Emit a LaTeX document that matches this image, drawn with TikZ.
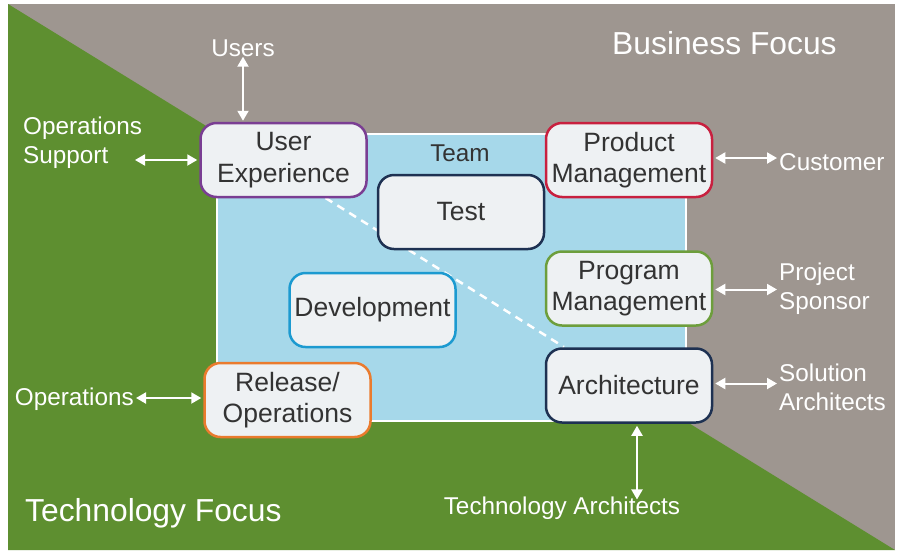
\documentclass[tikz,border=0pt]{standalone}
\usepackage{fontspec}
\setmainfont{Liberation Sans}
\usetikzlibrary{arrows.meta}

\definecolor{bizgray}{RGB}{158,150,144}
\definecolor{techgreen}{RGB}{94,143,48}
\definecolor{teamblue}{RGB}{166,216,234}
\definecolor{boxfill}{RGB}{238,241,243}
\definecolor{boxtext}{RGB}{51,51,51}
\definecolor{cpurple}{RGB}{122,62,147}
\definecolor{cred}{RGB}{200,32,63}
\definecolor{cnavy}{RGB}{30,49,82}
\definecolor{cgreen}{RGB}{109,158,60}
\definecolor{ccyan}{RGB}{28,154,208}
\definecolor{corange}{RGB}{234,123,46}

\tikzset{
  rolebox/.style={draw, line width=2.5pt, fill=boxfill, rounded corners=16pt,
    minimum width=166pt, minimum height=74pt, align=center, text=boxtext,
    font=\fontsize{26.5}{31.5}\selectfont, inner sep=1pt},
  extlabel/.style={text=white, font=\fontsize{24.3}{29}\selectfont, inner sep=2pt},
  focuslabel/.style={text=white, font=\fontsize{31.8}{36}\selectfont, inner sep=0pt, anchor=west},
  biarrow/.style={white, line width=2pt,
    {Triangle[length=10pt,width=11pt]}-{Triangle[length=10pt,width=11pt]}},
  divider/.style={white, line width=2.5pt, dash pattern=on 8pt off 6pt}
}

\begin{document}
\begin{tikzpicture}[x=1pt,y=-1pt]
  \useasboundingbox (0,0) rectangle (901,555);
  \fill[white] (0,0) rectangle (901,555);

  % two focus areas split along the diagonal
  \fill[bizgray] (8,4) rectangle (895,550);
  \fill[techgreen] (8,4) -- (895,550) -- (8,550) -- cycle;

  % team area
  \draw[white, line width=2.5pt, fill=teamblue] (217,134) rectangle (686,421);
  \node[text=boxtext, font=\fontsize{24.3}{29}\selectfont] (team) at (460,153) {Team};

  \node[focuslabel] (biz) at (612,43) {Business Focus};
  \node[focuslabel] (tech) at (25,513) {Technology Focus};

  % dashed divider across the team area, beneath the boxes
  \coordinate (divstart) at (325.5,198);
  \coordinate (divend) at (564,347);
  \draw[divider] (divstart) -- (divend);

  % role boxes
  \node[rolebox, draw=cpurple] (ux)   at (283.5,160) {User\\Experience};
  \node[rolebox, draw=cred]    (pm)   at (629,160)   {Product\\Management};
  \node[rolebox, draw=cnavy]   (test) at (461,212)   {Test};
  \node[rolebox, draw=cgreen]  (prog) at (629,288.5) {Program\\Management};
  \node[rolebox, draw=ccyan]   (dev)  at (372.5,310) {Development};
  \node[rolebox, draw=corange] (rel)  at (287.5,400) {Release/\\Operations};
  \node[rolebox, draw=cnavy]   (arch) at (629,385.5) {Architecture};

  % outside stakeholders
  \node[extlabel] (users) at (243,48) {Users};
  \node[extlabel, align=left, anchor=west] (opsup) at (21,143) {Operations\\Support};
  \coordinate (opsupend) at (135,160);
  \node[extlabel, anchor=west] (cust) at (777,162) {Customer};
  \node[extlabel, align=left, anchor=west] (sponsor) at (777,289) {Project\\Sponsor};
  \node[extlabel, align=left, anchor=west] (solarch) at (777,387) {Solution\\Architects};
  \node[extlabel, anchor=east] (ops) at (136,399) {Operations};
  \node[extlabel] (techarch) at (562,508) {Technology Architects};

  % connectors
  \draw[biarrow] ([yshift=1pt]ux.north -| users) -- ([yshift=2pt]users.south);
  \draw[biarrow] (opsupend) -- ([xshift=-2pt]ux.west);
  \draw[biarrow] ([xshift=2pt,yshift=2pt]pm.east) -- ([yshift=2pt]pm.east -| cust.west);
  \draw[biarrow] ([xshift=2pt,yshift=-1pt]prog.east) -- ([yshift=-1pt]prog.east -| sponsor.west);
  \draw[biarrow] ([xshift=2pt,yshift=2pt]arch.east) -- ([yshift=2pt]arch.east -| solarch.west);
  \draw[biarrow] ([yshift=2pt]rel.west -| ops.east) -- ([xshift=-2pt,yshift=2pt]rel.west);
  \draw[biarrow] ([xshift=8pt,yshift=-2pt]arch.south) -- ([xshift=8pt,yshift=-5pt]arch.south |- techarch.north);
\end{tikzpicture}
\end{document}
